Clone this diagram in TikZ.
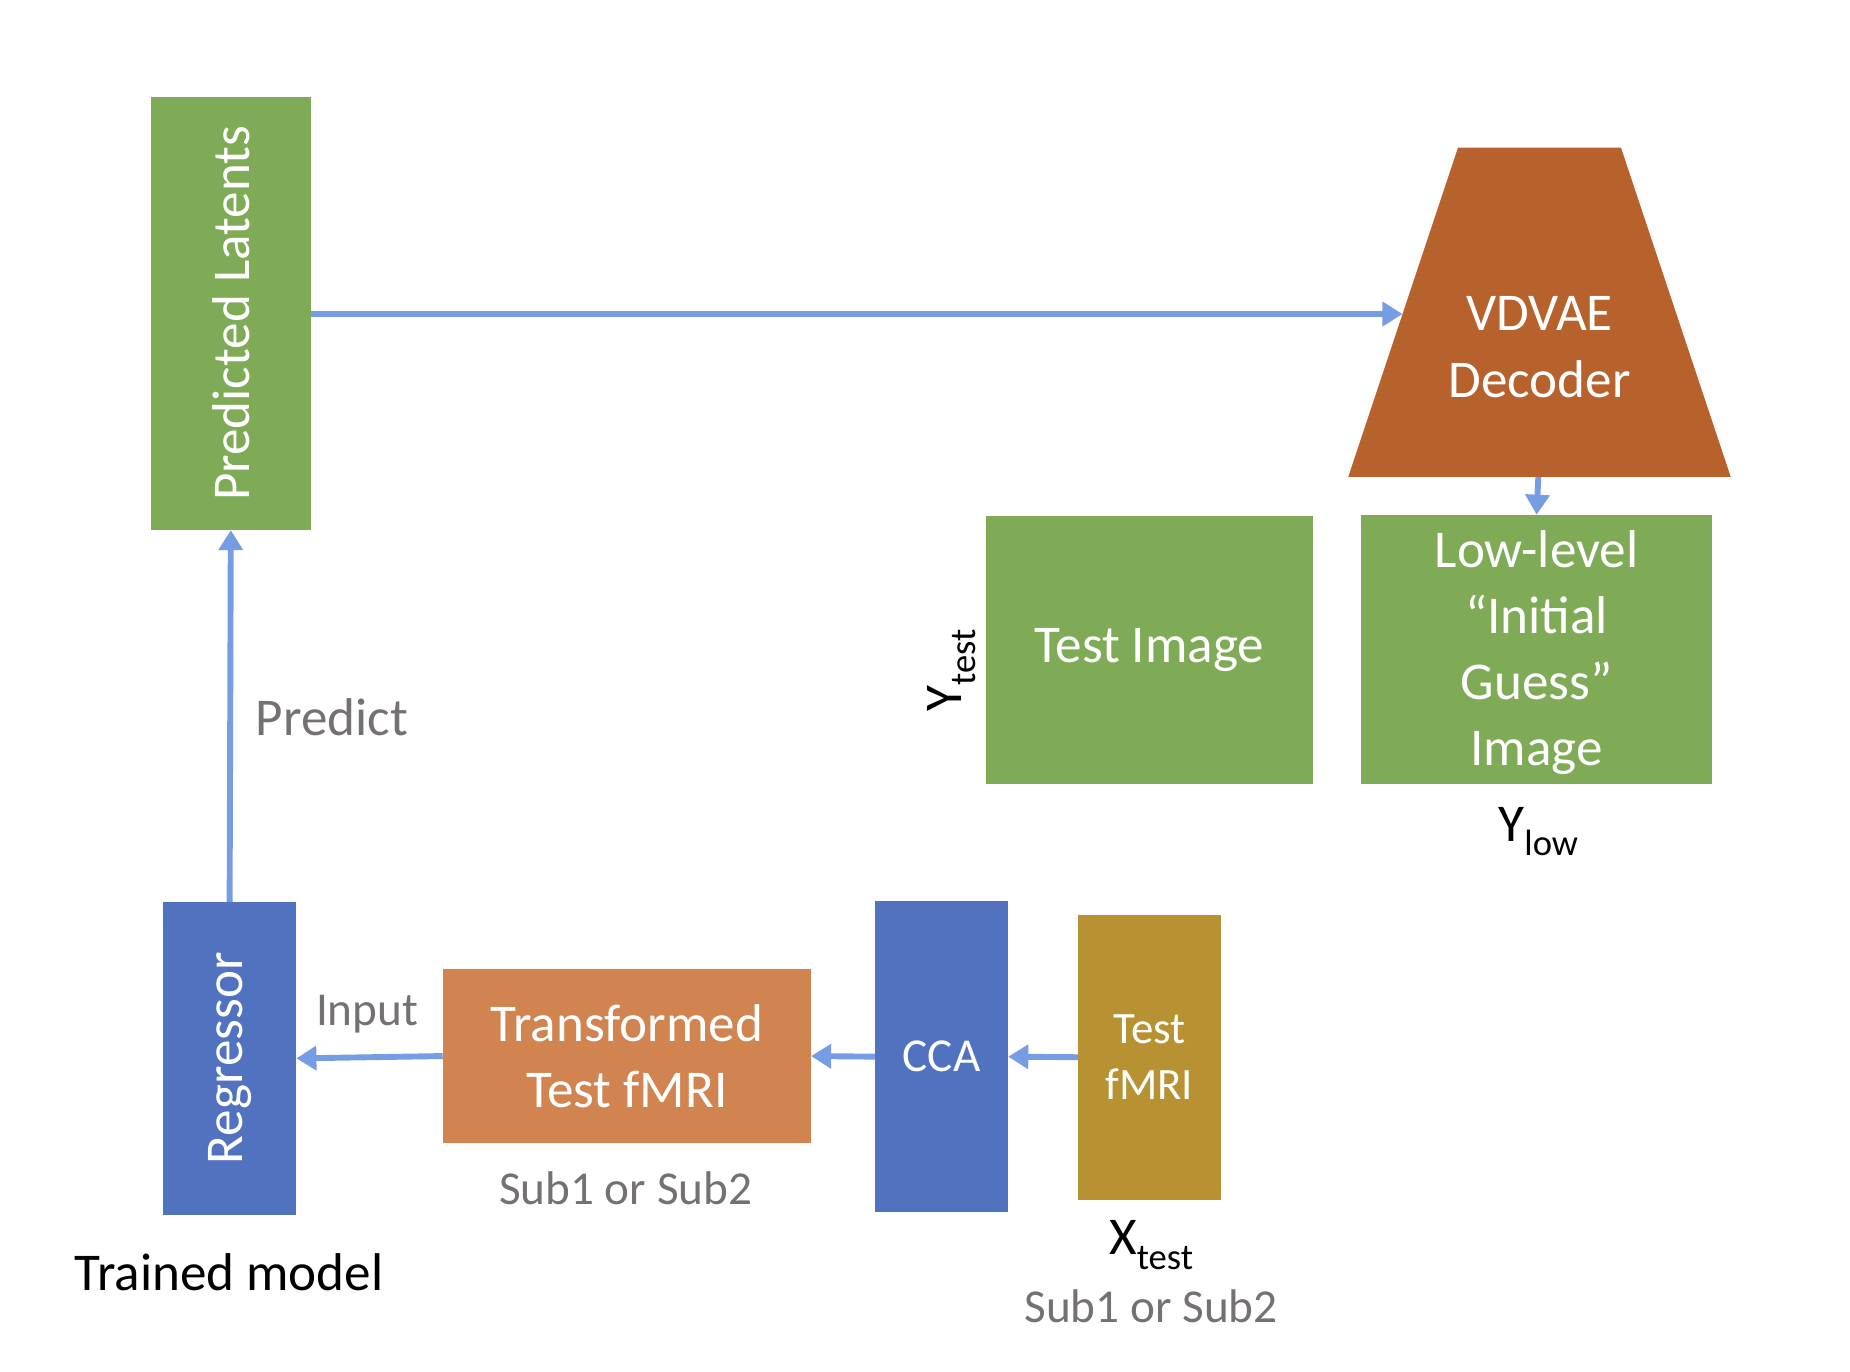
\documentclass[tikz,border=0pt]{standalone}
\usepackage{fontspec}
\setmainfont{Carlito}
\usetikzlibrary{arrows.meta}
\definecolor{cgreen}{RGB}{127,171,86}
\definecolor{cblue}{RGB}{81,114,190}
\definecolor{corange}{RGB}{209,132,80}
\definecolor{cbrown}{RGB}{183,97,44}
\definecolor{cmustard}{RGB}{184,146,50}
\definecolor{carrow}{RGB}{118,156,228}
\definecolor{cgray}{RGB}{118,113,113}
\newcommand{\bigtxt}{\fontsize{45}{56}\selectfont}
\newcommand{\midtxt}{\fontsize{40}{50}\selectfont}
\newcommand{\subtxt}{\fontsize{31}{31}\selectfont}
\tikzset{
  box/.style={inner sep=0pt, outer sep=0pt, text=white, align=center, font=\bigtxt},
  conn/.style={draw=carrow, line width=5pt, -{Triangle[width=20pt,length=17pt]}},
  graylbl/.style={text=cgray, inner sep=0pt, anchor=base},
  blacklbl/.style={text=black, inner sep=0pt, anchor=base, font=\bigtxt}
}
\begin{document}
\begin{tikzpicture}[x=1pt,y=-1pt]
\useasboundingbox (0,0) rectangle (1567,1162.1);
% boxes
\node[box, fill=cgreen, minimum width=135pt, minimum height=367pt] (pl) at (195.5,265.5) {};
\node[box, rotate=90] (pltxt) at (195.5,265.5) {Predicted Latents};
\node[box, fill=cblue, minimum width=113pt, minimum height=265pt] (reg) at (194.5,896.5) {};
\node[box, rotate=90] (regtxt) at (194.5,896.5) {Regressor};
\node[box, fill=corange, minimum width=312pt, minimum height=147pt] (tr) at (531,894.5) {Transformed\\Test fMRI};
\node[box, fill=cblue, minimum width=113pt, minimum height=264pt, font=\midtxt] (cca) at (797.5,895) {CCA};
\node[box, fill=cmustard, minimum width=121pt, minimum height=241pt, font=\fontsize{38}{48}\selectfont] (tf) at (973.5,895.5) {Test\\fMRI};
\node[box, fill=cgreen, minimum width=277pt, minimum height=227pt] (ti) at (973.5,550.5) {Test Image};
\node[box, fill=cgreen, minimum width=297pt, minimum height=228pt] (low) at (1301.5,550) {};
\node[box] (lowtxt) at (1301.5,553) {Low-level\\“Initial\\Guess”\\Image};
% trapezoid decoder
\fill[cbrown] (1235,125) -- (1373,125) -- (1466,404) -- (1142,404) -- cycle;
\node[box] (vdvae) at (1304,294) {VDVAE\\Decoder};
\coordinate (trapL) at (1188,266);
\coordinate (trapB) at (1303,404);
% connectors
\draw[conn] (pl.east |- trapL) -- (trapL);
\draw[conn] (trapB) -- (low.north);
\draw[conn] (reg.north) -- (pl.south);
\draw[conn] (tr.west) -- (reg.east);
\draw[conn] (cca.west) -- (tr.east);
\draw[conn] (tf.west) -- (cca.east);
% labels
\node[graylbl, font=\bigtxt] (predict) at (281,623) {Predict};
\node[graylbl, font=\midtxt] (input) at (311,869) {Input};
\node[graylbl, font=\midtxt] (sub1) at (530,1020) {Sub1 or Sub2};
\node[graylbl, font=\midtxt] (sub2) at (975,1120) {Sub1 or Sub2};
\node[blacklbl] (trained) at (194,1093) {Trained model};
\node[blacklbl] (ylow) at (1303,713) {Y\raisebox{-12pt}{\subtxt low}};
\node[blacklbl] (xtest) at (975,1063) {X\raisebox{-12pt}{\subtxt test}};
\node[text=black, inner sep=0pt, font=\bigtxt, rotate=90] (ytest) at (806,568) {Y\raisebox{-12pt}{\subtxt test}};
\end{tikzpicture}
\end{document}
